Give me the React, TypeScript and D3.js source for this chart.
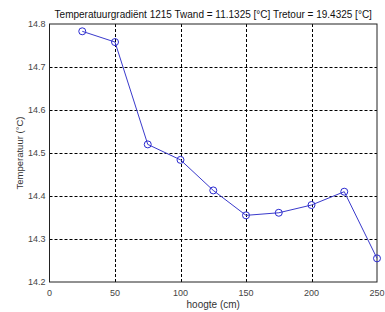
import React, { useRef, useEffect } from 'react';
import * as d3 from 'd3';

const heights = [25, 50, 75, 100, 125, 150, 175, 200, 225, 250];
const temps = [14.783, 14.758, 14.52, 14.484, 14.413, 14.355, 14.361, 14.379, 14.41, 14.255];
const xTicks = [0, 50, 100, 150, 200, 250];
const yTicks = [14.2, 14.3, 14.4, 14.5, 14.6, 14.7, 14.8];
const title = 'Temperatuurgradiënt 1215 Twand = 11.1325 [°C] Tretour = 19.4325 [°C]';

export default function App() {
  const ref = useRef<SVGSVGElement>(null);

  useEffect(() => {
    drawChart();
  }, []);

  function drawChart() {
    const W = 385, H = 312;
    const m = { top: 24, right: 8, bottom: 30, left: 49.5 };
    const svg = d3.select(ref.current);
    svg.selectAll('*').remove();

    const x = d3.scaleLinear().domain([0, 250]).range([m.left, W - m.right]);
    const y = d3.scaleLinear().domain([14.2, 14.8]).range([H - m.bottom, m.top]);

    svg.append('rect').attr('width', W).attr('height', H).attr('fill', '#fff');

    // grid
    svg.append('g')
      .selectAll('line')
      .data(xTicks.slice(1, -1))
      .join('line')
      .attr('x1', d => Math.round(x(d)) + 0.5).attr('x2', d => Math.round(x(d)) + 0.5)
      .attr('y1', m.top).attr('y2', H - m.bottom)
      .attr('stroke', '#000').attr('stroke-width', 1).attr('stroke-dasharray', '3,2');
    svg.append('g')
      .selectAll('line')
      .data(yTicks.slice(1, -1))
      .join('line')
      .attr('x1', m.left).attr('x2', W - m.right)
      .attr('y1', d => Math.round(y(d)) + 0.5).attr('y2', d => Math.round(y(d)) + 0.5)
      .attr('stroke', '#000').attr('stroke-width', 1).attr('stroke-dasharray', '3,2');

    // box
    svg.append('rect')
      .attr('x', m.left).attr('y', m.top)
      .attr('width', W - m.right - m.left).attr('height', H - m.bottom - m.top)
      .attr('fill', 'none').attr('stroke', '#222').attr('stroke-width', 1);

    const font = 'Liberation Sans, Arial, sans-serif';

    svg.append('g')
      .selectAll('text')
      .data(xTicks)
      .join('text')
      .attr('x', d => x(d)).attr('y', H - m.bottom + 14)
      .attr('text-anchor', 'middle')
      .attr('font-family', font).attr('font-size', 9).attr('fill', '#444')
      .text(d => d);

    svg.append('g')
      .selectAll('text')
      .data(yTicks)
      .join('text')
      .attr('x', m.left - 4).attr('y', d => y(d) + 3)
      .attr('text-anchor', 'end')
      .attr('font-family', font).attr('font-size', 9).attr('fill', '#444')
      .text(d => d.toFixed(1));

    svg.append('text')
      .attr('x', (m.left + W - m.right) / 2).attr('y', 18)
      .attr('text-anchor', 'middle')
      .attr('font-family', font).attr('font-size', 10).attr('fill', '#111')
      .text(title);

    svg.append('text')
      .attr('x', (m.left + W - m.right) / 2).attr('y', 308)
      .attr('text-anchor', 'middle')
      .attr('font-family', font).attr('font-size', 10).attr('fill', '#333')
      .text('hoogte (cm)');

    svg.append('text')
      .attr('transform', `translate(22.5,${(m.top + H - m.bottom) / 2}) rotate(-90)`)
      .attr('text-anchor', 'middle')
      .attr('font-family', font).attr('font-size', 9.5).attr('fill', '#333')
      .text('Temperatuur (°C)');

    const line = d3.line<number>()
      .x((d, i) => x(heights[i]))
      .y(d => y(d));

    svg.append('path')
      .datum(temps)
      .attr('fill', 'none')
      .attr('stroke', '#3a3acc')
      .attr('stroke-width', 1)
      .attr('d', line);

    svg.append('g')
      .selectAll('circle')
      .data(temps)
      .join('circle')
      .attr('cx', (d, i) => x(heights[i]))
      .attr('cy', d => y(d))
      .attr('r', 3.5)
      .attr('fill', 'none')
      .attr('stroke', '#2a2ad0')
      .attr('stroke-width', 1);
  }

  return (
    <div style={{ position: 'absolute', left: 0, top: 0 }}>
      <svg ref={ref} width={385} height={312} style={{ display: 'block' }} />
    </div>
  );
}
